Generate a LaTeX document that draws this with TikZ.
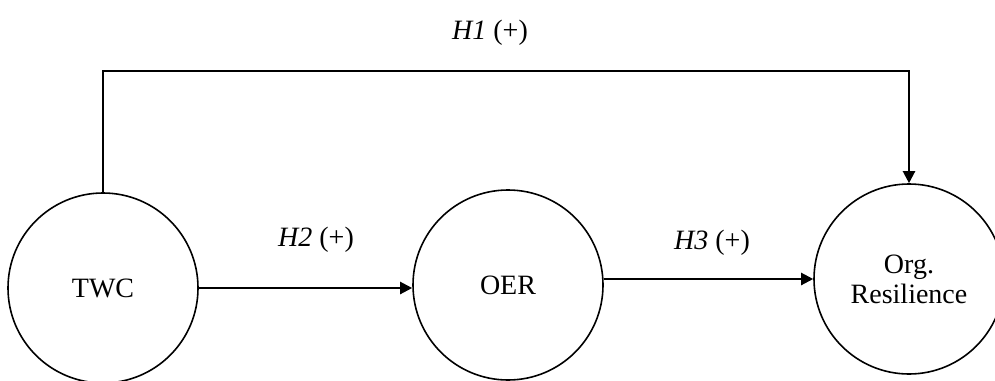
\documentclass[tikz,border=0pt]{standalone}
\usepackage{fontspec}
\setmainfont{Liberation Serif}
\usetikzlibrary{arrows.meta}

\tikzset{
  construct/.style={draw,circle,line width=0.8pt,minimum size=95pt,inner sep=0pt,
    align=center,font=\fontsize{14}{15}\selectfont},
  path/.style={line width=1.1pt,-{Triangle[length=6pt,width=6pt]}},
  hyp/.style={font=\fontsize{14}{16}\selectfont}
}

\begin{document}
\begin{tikzpicture}[x=0.5pt,y=-0.5pt]
  \useasboundingbox (0,0) rectangle (995,380);
  % Constructs
  \node[construct] (twc) at (103,288) {TWC};
  \node[construct] (oer) at (508,285) {OER};
  \node[construct] (org) at (909,279) {Org.\\Resilience};
  % Direct path
  \coordinate (top) at (0,71);
  \draw[path] (twc.north) -- (twc.north |- top) -| (org.north);
  \node[hyp] (h1) at (490,33) {\textit{H1} (+)};
  % Mediated paths
  \draw[path] (twc.east) -- (twc.east -| oer.west);
  \node[hyp] (h2) at (316,240) {\textit{H2} (+)};
  \draw[path] (org.west -| oer.east) -- (org.west);
  \node[hyp] (h3) at (712,243) {\textit{H3} (+)};
\end{tikzpicture}
\end{document}
